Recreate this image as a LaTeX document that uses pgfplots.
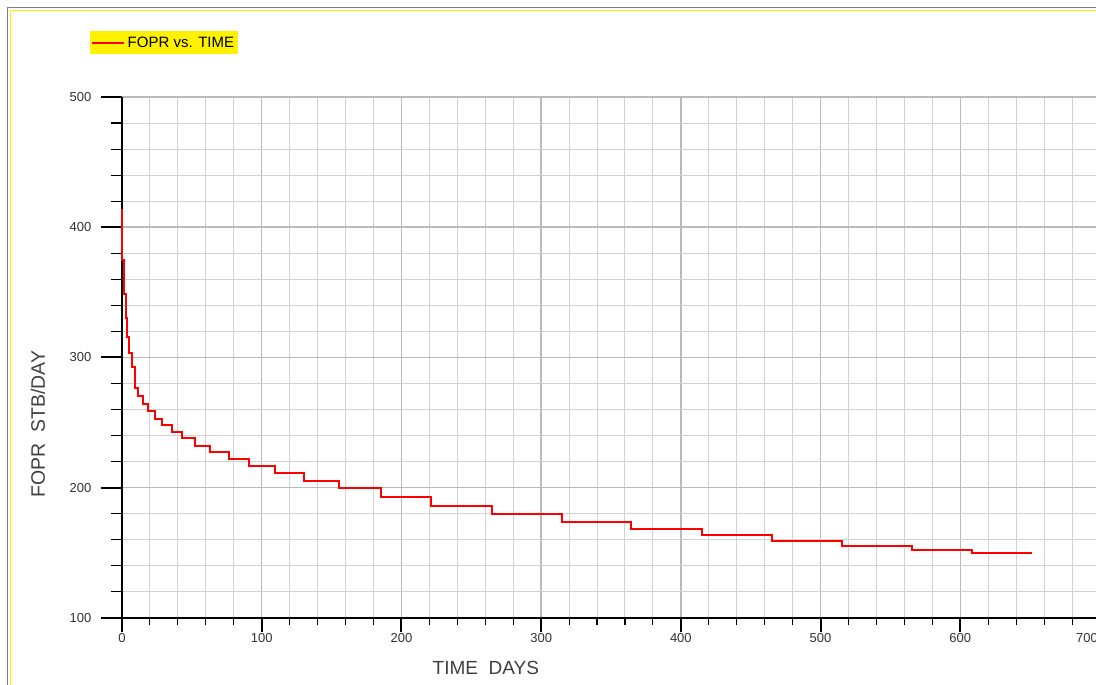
\documentclass[border=0pt]{standalone}
\usepackage{fontspec}
\setmainfont{Liberation Sans}
\usepackage{pgfplots}
\usepackage{pgfplotstable}
\pgfplotsset{compat=1.18}
\pgfplotstableread{
t v
0 413.8
1.2 374.9
2.9 348.7
3.7 330.1
5.1 315.5
6.8 303.2
9.0 292.5
11.7 276.8
15.2 270.4
18.4 264.2
23.6 258.6
28.9 252.8
35.6 248.2
42.7 242.6
52.3 238.0
63.0 232.3
76.6 227.7
91.1 221.8
109.5 216.9
130.3 211.6
155.3 205.0
185.4 199.6
221.0 193.1
264.6 186.0
315.2 179.8
364.4 173.5
415.4 168.3
465.5 163.7
515.2 159.3
565.7 155.5
608.2 152.2
651.2 149.7
}\fopr
\pgfplotsset{
  common/.style={
    at={(122bp,67bp)}, anchor=south west,
    scale only axis, width=978bp, height=521bp,
    xmin=0, xmax=700, ymin=100, ymax=500,
    xtick={0,100,...,700}, ytick={100,200,...,500},
    minor x tick num=4, minor y tick num=4,
    /pgf/number format/assume math mode=true,
    tick label style={font=\fontsize{13bp}{15bp}\selectfont, text=black!80},
  }
}
\begin{document}
\begin{tikzpicture}
\useasboundingbox (0,0) rectangle (1096bp,685bp);
\clip (0,0) rectangle (1096bp,685bp);
\fill[white] (0,0) rectangle (1096bp,685bp);
\draw[black!50, line width=1.2bp] (7.3bp,-10bp) -- (7.3bp,677.7bp) -- (1110bp,677.7bp);
\draw[yellow, line width=1.3bp] (10.3bp,-10bp) -- (10.3bp,674.7bp) -- (1110bp,674.7bp);

% grid
\begin{axis}[common,
  grid=both,
  major grid style={draw=black!27, line width=1.5bp},
  minor grid style={draw=black!18, line width=1bp},
  major tick length=0pt, minor tick length=0pt,
  xticklabels={}, yticklabels={},
  axis line style={draw=none}]
\end{axis}

% x axis
\begin{axis}[common,
  axis x line*=bottom, axis y line=none, ytick=\empty,
  xticklabels={0,100,200,300,400,500,600,{}},
  extra x ticks={700}, extra x tick labels={700},
  extra x tick style={xticklabel style={xshift=-13bp}},
  tick align=outside,
  major tick length=14bp, minor tick length=7.5bp,
  axis line style={black, line width=1.5bp},
  major tick style={black, line width=2bp},
  minor tick style={black, line width=1.1bp},
  xticklabel style={inner sep=1.5bp},
  xlabel={TIME\ \ DAYS},
  every axis x label/.style={at={(axis description cs:0.372,-0.096)}, anchor=center,
    font=\fontsize{19bp}{22bp}\selectfont, text=black!75}]
\end{axis}

% y axis + data
\begin{axis}[common,
  axis y line*=left, axis x line=none, xtick=\empty,
  tick align=outside,
  major tick length=21bp, minor tick length=11bp,
  axis line style={black, line width=1.5bp},
  major tick style={black, line width=2bp},
  minor tick style={black, line width=1.1bp},
  yticklabel style={inner sep=1.5bp, xshift=-8bp},
  ylabel={FOPR\ \ STB/DAY},
  every axis y label/.style={at={(axis description cs:-0.0859,0.372)}, rotate=90, anchor=center,
    font=\fontsize{19.5bp}{22bp}\selectfont, text=black!75},
  legend style={at={(axis description cs:-0.0327,1.1267)}, anchor=north west,
    fill=yellow, draw=none, inner xsep=1bp, inner ysep=3.5bp,
    font=\fontsize{15bp}{18bp}\selectfont,
    nodes={inner xsep=2.5bp, inner ysep=2bp}},
  legend image code/.code={\draw[red, line width=2bp] (0bp,0bp) -- (32bp,0bp);},
  clip=false]
\addplot[red, line width=2bp, const plot mark right] table[x=t, y=v] {\fopr};
\addlegendentry{FOPR vs. TIME}
\end{axis}
\end{tikzpicture}
\end{document}
